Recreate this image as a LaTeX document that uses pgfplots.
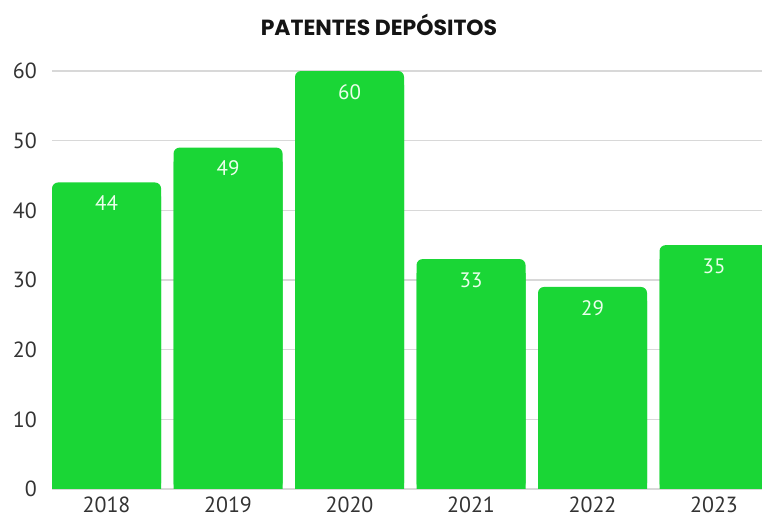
\documentclass[border=0pt]{standalone}
\usepackage{pgfplots}
\pgfplotsset{compat=1.18}
\usepackage{fontspec}
\setmainfont{PT Sans}
\newfontfamily\titlefont{Poppins}
\definecolor{barg}{HTML}{1AD636}
\definecolor{gridgray}{HTML}{D8D8D8}
\definecolor{labelgray}{HTML}{333333}
\begin{document}
\begin{tikzpicture}
\path[use as bounding box] (-52bp,-29bp) rectangle (710bp,489bp);
\begin{axis}[
  at={(0bp,0bp)}, anchor=south west,
  scale only axis, width=710bp, height=418bp,
  xmin=-0.449, xmax=5.395, ymin=0, ymax=60,
  ytick={0,10,...,60}, xtick={0,1,2,3,4,5},
  xticklabels={2018,2019,2020,2021,2022,2023},
  axis line style={draw=none}, major tick style={draw=none},
  ymajorgrids, grid style={draw=gridgray, line width=1.4pt},
  ybar, bar width=109bp, bar shift=0pt,
  /pgf/number format/assume math mode=true,
  tick label style={font=\fontsize{22}{22}\selectfont, color=labelgray},
  yticklabel style={inner sep=0pt, xshift=-15bp},
  xticklabel style={inner sep=0pt, anchor=center, yshift=-12bp},
  every node near coord/.append style={anchor=center, yshift=-21bp, font=\fontsize{21}{21}\selectfont, color=white!92!green},
]
\addplot[fill=barg, draw=none] coordinates {(0,42) (1,47) (2,58) (3,31) (4,27) (5,33)};
\addplot[fill=barg, draw=none, rounded corners=6bp, nodes near coords] coordinates {(0,44) (1,49) (2,60) (3,33) (4,29) (5,35)};
\end{axis}
\node[anchor=base, font=\titlefont\bfseries\fontsize{22}{22}\selectfont, color=black!92] at (327bp,453bp) {PATENTES DEPÓSITOS};
\end{tikzpicture}
\end{document}
